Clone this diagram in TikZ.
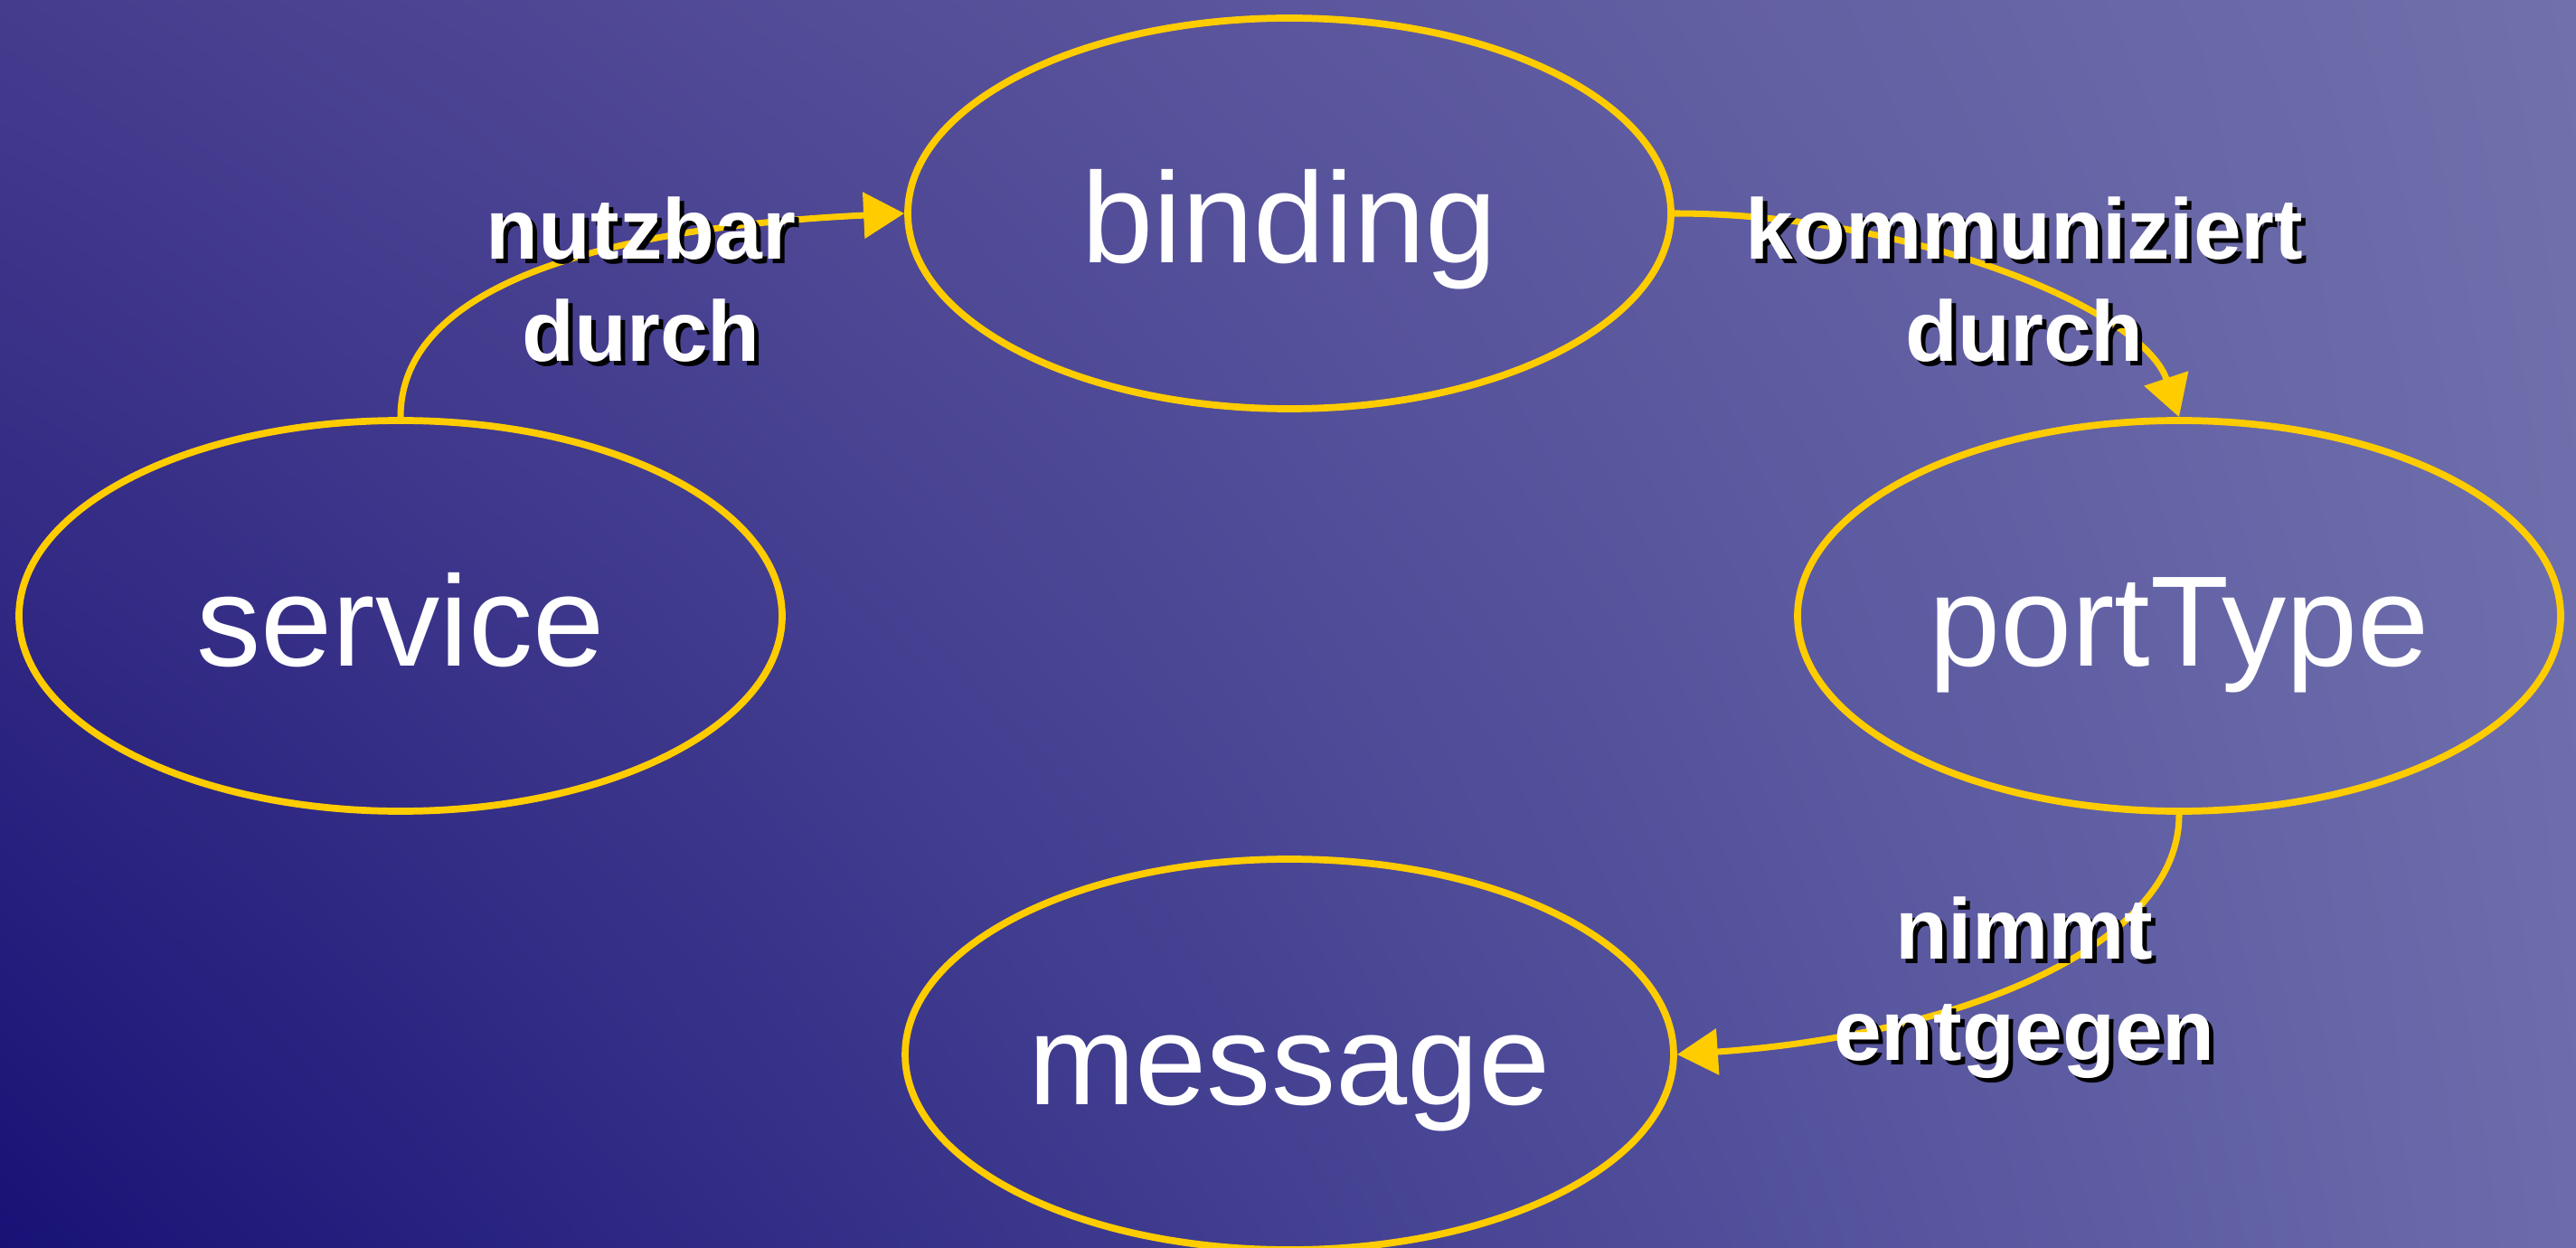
\documentclass[tikz,border=0pt]{standalone}
\usepackage{fontspec}
\setmainfont{Liberation Sans}
\usetikzlibrary{shapes.geometric,arrows.meta,shadings}

\definecolor{bgul}{RGB}{70,60,142}
\definecolor{bgur}{RGB}{112,112,172}
\definecolor{bgll}{RGB}{24,18,118}
\definecolor{bglr}{RGB}{108,108,172}
\definecolor{wsdlgold}{RGB}{255,204,0}

\tikzset{
  part/.style={ellipse, draw=wsdlgold, line width=2.2pt,
    minimum width=8.44cm, minimum height=4.32cm, text=white,
    font=\fontsize{40.5}{48}\selectfont, text height=1.45cm, text depth=0.35cm},
  rel/.style={draw=wsdlgold, line width=2pt,
    -{Triangle[length=0.45cm,width=0.5cm,quick]}},
  lbl/.style={text=white, font=\bfseries\fontsize{27}{32}\selectfont, align=center},
  lblshadow/.style={lbl, text=black},
}

\begin{document}
\begin{tikzpicture}
\useasboundingbox (0,0) rectangle (28.49,13.79);
\shade[upper left=bgul, upper right=bgur, lower left=bgll, lower right=bglr]
  (0,0) rectangle (28.49,13.79);

% the four parts
\node[part] (binding) at (14.26,11.43) {binding};
\node[part] (service) at (4.43,6.98) {service};
\node[part] (porttype) at (24.10,6.98) {portType};
\node[part] (message) at (14.26,2.13) {message};

% relations
\draw[rel] (service.north) .. controls +(0,1.5) and +(-3.2,-0.15) .. (binding.west);
\draw[rel] (binding.east) .. controls +(2.6,0) and +(-0.4,1.2) .. (porttype.north);
\draw[rel] (porttype.south) .. controls +(0,-1.5) and +(3.0,0.2) .. (message.east);

% labels, with their shadows
\node[lblshadow] (nutzs) at (7.14,10.65) {nutzbar\\durch};
\node[lbl] (nutz) at (7.09,10.70) {nutzbar\\durch};
\node[lblshadow] (komms) at (22.44,10.65) {kommuniziert\\durch};
\node[lbl] (komm) at (22.39,10.70) {kommuniziert\\durch};
\node[lblshadow] (nimms) at (22.44,2.82) {nimmt\\entgegen};
\node[lbl] (nimm) at (22.39,2.87) {nimmt\\entgegen};
\end{tikzpicture}
\end{document}
